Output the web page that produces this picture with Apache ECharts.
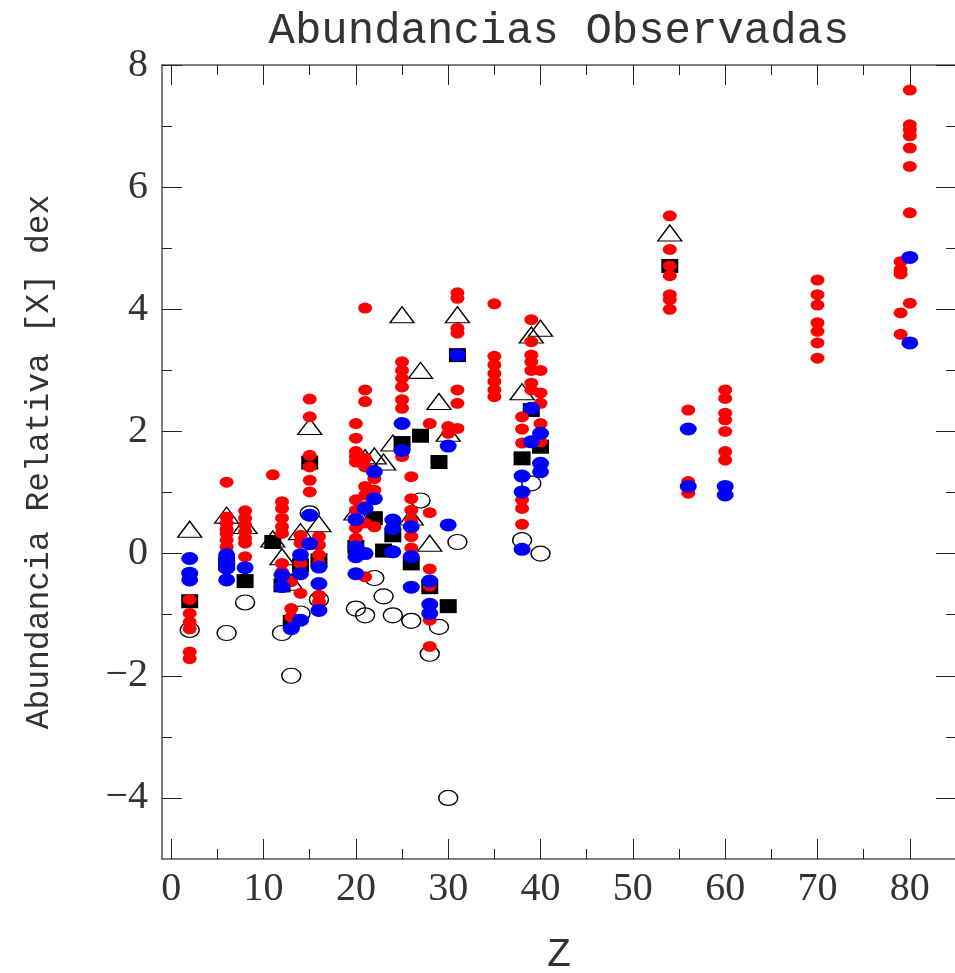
<!DOCTYPE html>
<html>
<head>
<meta charset="utf-8">
<script src="https://cdn.jsdelivr.net/npm/echarts@6/dist/echarts.min.js"></script>
<style>
  html, body { margin: 0; padding: 0; background: #fff; }
  #chart { width: 955px; height: 973px; }
</style>
</head>
<body>
<div id="chart"></div>
<script>
// Axis ticks
const xTickLabels = [0, 10, 20, 30, 40, 50, 60, 70, 80];
const xMinorTicks = [5, 15, 25, 35, 45, 55, 65, 75];
const yTickLabels = [-4, -2, 0, 2, 4, 6, 8];
const yMinorTicks = [-3, -1, 1, 3, 5, 7];

// [Z, [X]] values per group
const redPoints = [
  [2,-0.75],[2,-0.98],[2,-1.12],[2,-1.23],[2,-1.61],[2,-1.72],
  [6,1.17],[6,0.6],[6,0.5],[6,0.4],[6,0.33],[6,0.22],[6,0.11],
  [8,0.7],[8,0.58],[8,0.47],[8,0.36],[8,0.25],[8,0.17],[8,-0.05],
  [11,1.29],
  [12,0.85],[12,0.74],[12,0.58],[12,0.44],[12,0.33],[12,-0.16],[12,-0.3],
  [13,-0.46],[13,-0.9],[13,-1.04],
  [14,0.3],[14,0.17],[14,-0.02],[14,-0.16],[14,-0.65],
  [15,2.53],[15,2.24],[15,1.61],[15,1.42],[15,1.2],[15,1.01],
  [16,0.28],[16,0.14],[16,-0.02],[16,-0.16],[16,-0.68],[16,-0.79],
  [20,2.13],[20,1.89],[20,1.67],[20,1.59],[20,1.5],[20,0.88],[20,0.71],[20,0.55],[20,0.42],[20,0.25],[20,0.11],
  [21,4.02],[21,2.68],[21,2.49],[21,1.56],[21,1.42],[21,1.1],[21,0.96],[21,0.77],[21,0.5],[21,-0.38],
  [22,1.23],[22,1.04],[22,0.44],
  [25,3.14],[25,3.0],[25,2.87],[25,2.73],[25,2.52],[25,2.38],[25,1.59],
  [26,1.26],[26,0.9],[26,0.71],[26,0.55],[26,0.28],[26,0.09],
  [28,2.13],[28,0.67],[28,-0.25],[28,-0.53],[28,-1.09],[28,-1.52],
  [30,2.08],[30,1.97],
  [31,4.27],[31,4.18],[31,3.69],[31,3.61],[31,2.68],[31,2.46],[31,2.05],
  [35,4.09],[35,3.23],[35,3.09],[35,2.95],[35,2.82],[35,2.68],[35,2.57],
  [38,2.24],[38,2.04],[38,1.81],[38,0.88],[38,0.74],[38,0.48],
  [39,3.83],[39,3.47],[39,3.25],[39,3.14],[39,3.0],[39,2.79],[39,2.68],
  [40,3.0],[40,2.63],[40,2.46],[40,2.13],[40,1.83],
  [54,5.53],[54,4.98],[54,4.71],[54,4.55],[54,4.24],[54,4.16],[54,4.0],
  [56,2.35],[56,1.18],[56,0.99],
  [60,2.68],[60,2.54],[60,2.3],[60,2.19],[60,2.0],[60,1.67],[60,1.53],
  [70,4.48],[70,4.24],[70,4.07],[70,3.78],[70,3.64],[70,3.45],[70,3.2],
  [79,4.78],[79,4.65],[79,4.58],[79,3.94],[79,3.59],
  [80,7.59],[80,7.02],[80,6.94],[80,6.84],[80,6.64],[80,6.34],[80,5.58],[80,4.1]
];

const bluePoints = [
  [2,-0.08],[2,-0.32],[2,-0.43],
  [6,-0.02],[6,-0.13],[6,-0.24],[6,-0.43],
  [8,-0.23],
  [12,-0.35],[12,-0.54],
  [13,-1.23],
  [14,-0.02],[14,-0.33],[14,-1.09],
  [15,0.63],[15,0.16],
  [16,-0.22],[16,-0.49],[16,-0.93],
  [20,0.56],[20,0.11],[20,-0.05],[20,-0.33],
  [21,0.74],[21,0.0],
  [22,1.34],[22,0.9],
  [24,0.55],[24,0.41],[24,0.03],
  [25,2.13],[25,1.69],
  [26,0.44],[26,-0.05],[26,-0.55],
  [28,-0.45],[28,-0.83],[28,-0.98],
  [30,1.76],[30,0.47],
  [31,3.25],
  [38,1.27],[38,1.01],[38,0.07],
  [39,2.38],[39,1.83],
  [40,1.97],[40,1.48],[40,1.34],
  [56,2.04],[56,1.1],
  [60,1.1],[60,0.96],
  [80,4.85],[80,3.45]
];

const squarePoints = [
  [2,-0.78],[6,-0.16],[8,-0.45],[11,0.19],[12,-0.52],[13,-1.12],[14,-0.19],
  [15,1.49],[16,-0.11],[20,0.11],[22,0.58],[23,0.05],[24,0.3],[25,1.81],
  [26,-0.16],[27,1.93],[28,-0.55],[29,1.5],[30,-0.86],[31,3.25],[38,1.56],
  [39,2.35],[40,1.75],[54,4.71]
];

const trianglePoints = [
  [2,0.4],[6,0.63],[8,0.46],[11,0.24],[12,-0.05],[13,-0.47],[14,0.36],
  [15,2.08],[16,0.49],[20,0.68],[21,1.57],[22,1.6],[23,1.5],[24,1.81],
  [25,3.91],[26,0.6],[27,3.0],[28,0.17],[29,2.49],[30,1.97],[31,3.91],
  [38,2.65],[39,3.58],[40,3.69],[54,5.25]
];

const openCirclePoints = [
  [2,-1.25],[6,-1.3],[8,-0.8],[12,-1.3],[13,-2.0],[14,-0.98],[15,0.66],
  [16,-0.75],[20,-0.9],[21,-1.01],[22,-0.4],[23,-0.7],[24,-1.01],[26,-1.1],
  [27,0.87],[28,-1.64],[29,-1.2],[30,-4.0],[31,0.19],[38,0.22],[39,1.15],[40,0.0]
];

const ellipse = 'path://M-1,0A1,1 0 1,0 1,0A1,1 0 1,0 -1,0Z';
const frameColor = '#555';
const tickColor = '#222';
const labelFont = 'Liberation Serif';
const monoFont = 'Liberation Mono';
const minus = v => String(v).replace('-', '\u2212');

function xAxisDef(position, ticks, len, withLabels, showLine) {
  return {
    type: 'value', min: -1, max: 85, position: position,
    axisLine: { show: showLine, onZero: false, lineStyle: { color: frameColor, width: 1.5 } },
    axisTick: { show: true, inside: true, length: len, customValues: ticks,
                lineStyle: { color: tickColor, width: 1 } },
    axisLabel: withLabels
      ? { show: true, customValues: ticks, margin: 10, color: '#333',
          fontFamily: labelFont, fontSize: 40, formatter: minus }
      : { show: false },
    splitLine: { show: false }
  };
}
function yAxisDef(position, ticks, len, withLabels, showLine) {
  return {
    type: 'value', min: -5, max: 8, position: position,
    axisLine: { show: showLine, onZero: false, lineStyle: { color: frameColor, width: 1.5 } },
    axisTick: { show: true, inside: true, length: len, customValues: ticks,
                lineStyle: { color: tickColor, width: 1 } },
    axisLabel: withLabels
      ? { show: true, customValues: ticks, margin: 14, color: '#333',
          fontFamily: labelFont, fontSize: 40, formatter: minus }
      : { show: false },
    splitLine: { show: false }
  };
}

const xMain = xAxisDef('bottom', xTickLabels, 20, true, true);
xMain.name = 'Z';
xMain.nameLocation = 'middle';
xMain.nameGap = 76;
xMain.nameTextStyle = { fontFamily: monoFont, fontSize: 40, color: '#333' };

const yMain = yAxisDef('left', yTickLabels, 20, true, true);
yMain.name = 'Abundancia Relativa [X] dex';
yMain.nameLocation = 'middle';
yMain.nameGap = 106;
yMain.nameTextStyle = { fontFamily: monoFont, fontSize: 33, color: '#333' };

const chart = echarts.init(document.getElementById('chart'), null, { renderer: 'canvas' });
chart.setOption({
  animation: false,
  backgroundColor: '#fff',
  grid: { left: 162, top: 65, width: 794, height: 794, containLabel: false, outerBoundsMode: 'none' },
  graphic: [{
    type: 'text', x: 559, y: 31,
    style: { text: 'Abundancias Observadas', font: '44px "Liberation Mono"', fill: '#333',
             textAlign: 'center', textVerticalAlign: 'middle' }
  }],
  xAxis: [
    xMain,
    xAxisDef('bottom', xMinorTicks, 10, false, false),
    xAxisDef('top', xTickLabels, 20, false, true),
    xAxisDef('top', xMinorTicks, 10, false, false)
  ],
  yAxis: [
    yMain,
    yAxisDef('left', yMinorTicks, 10, false, false),
    yAxisDef('right', yTickLabels, 20, false, true),
    yAxisDef('right', yMinorTicks, 10, false, false)
  ],
  series: [
    {
      type: 'scatter', data: openCirclePoints, symbol: ellipse, symbolSize: [19, 15],
      itemStyle: { color: 'rgba(0,0,0,0)', borderColor: '#000', borderWidth: 1.3, opacity: 1 },
      silent: true
    },
    {
      type: 'scatter', data: trianglePoints, symbol: 'triangle', symbolSize: [24, 16],
      itemStyle: { color: 'rgba(0,0,0,0)', borderColor: '#000', borderWidth: 1.3, opacity: 1 },
      silent: true
    },
    {
      type: 'scatter', data: squarePoints, symbol: 'rect', symbolSize: [17, 14],
      itemStyle: { color: '#000', opacity: 1 }, silent: true
    },
    {
      type: 'scatter', data: redPoints, symbol: ellipse, symbolSize: [14, 11],
      itemStyle: { color: '#ff0000', opacity: 1 }, silent: true
    },
    {
      type: 'scatter', data: bluePoints, symbol: ellipse, symbolSize: [17, 13],
      itemStyle: { color: '#0000ff', opacity: 1 }, silent: true
    }
  ]
});
</script>
</body>
</html>
